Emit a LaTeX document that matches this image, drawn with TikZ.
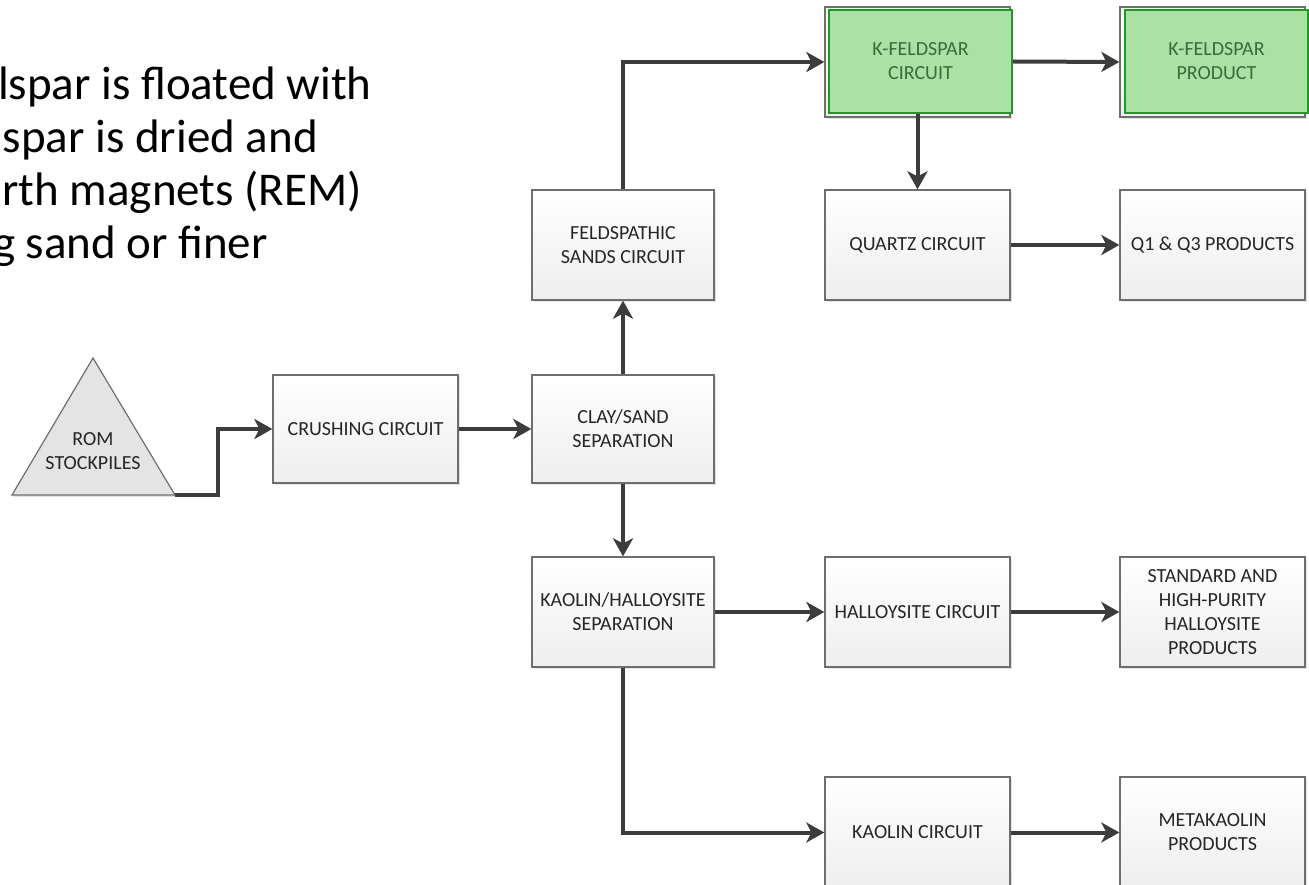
\documentclass[tikz,border=0pt]{standalone}
\usepackage{fontspec}
\setmainfont{Carlito}
\usetikzlibrary{arrows.meta,shadows,calc}

\definecolor{boxedge}{HTML}{6E6E6E}
\definecolor{flowline}{HTML}{3C3C3C}
\definecolor{kfill}{HTML}{A9E2A4}
\definecolor{kedge}{HTML}{1E9A1E}
\definecolor{ktext}{HTML}{3A6B3A}
\definecolor{pilefill}{HTML}{E4E4E4}

\tikzset{
  stepbox/.style={draw=boxedge, line width=1.3pt, top color=white, bottom color=gray!13,
    drop shadow={shadow xshift=2pt, shadow yshift=-2pt, fill=gray!45, opacity=0.45},
    align=center, text=black!85, font=\fontsize{20}{24}\selectfont,
    minimum width=#1, minimum height=110pt, inner sep=2pt},
  stepbox/.default=185pt,
  kbox/.style={draw=kedge, line width=2pt, fill=kfill, align=center, text=ktext,
    font=\fontsize{20}{24}\selectfont, minimum width=183pt, minimum height=103pt, inner sep=2pt},
  flow/.style={draw=flowline, line width=4pt,
    -{Stealth[length=18pt, width=20pt, inset=5pt]}},
  bodytext/.style={font=\fontsize{47}{53}\selectfont, text=black, inner sep=0pt, anchor=base east}
}

\begin{document}
\begin{tikzpicture}[x=1pt, y=-1pt]
\clip (0,0) rectangle (1309,885);
\useasboundingbox (0,0) rectangle (1309,885);

% text running in from the left margin
\node[bodytext] (t1) at (372,100) {lspar is floated with};
\node[bodytext] (t2) at (318,153) {spar is dried and};
\node[bodytext] (t3) at (362,206) {rth magnets (REM)};
\node[bodytext] (t4) at (268,259) {g sand or finer};

% run-of-mine stockpile
\draw[draw=boxedge, line width=1.2pt, fill=pilefill,
  drop shadow={shadow xshift=1pt, shadow yshift=-2pt, fill=gray!45, opacity=0.45}]
  (93,358) -- (175,495) -- (12,495) -- cycle;
\node[align=center, text=black!85, font=\fontsize{20}{24}\selectfont] (rom) at (93,451) {ROM\\STOCKPILES};
\coordinate (romout) at (175,495);

% main column
\node[stepbox] (crush) at (365.5,429) [minimum height=108pt] {CRUSHING CIRCUIT};
\node[stepbox=182pt] (clay) at (623,429) [minimum height=108pt] {CLAY/SAND\\SEPARATION};
\node[stepbox=182pt] (feld) at (623,245) {FELDSPATHIC\\SANDS CIRCUIT};
\node[stepbox=182pt] (kh) at (623,612) {KAOLIN/HALLOYSITE\\SEPARATION};

% K-feldspar line
\node[stepbox] (kfcframe) at (917.5,62) {};
\node[kbox] (kfc) at (920.5,61.5) {K-FELDSPAR\\CIRCUIT};
\node[stepbox] (kfpframe) at (1212.5,62) {};
\node[kbox] (kfp) at (1216.5,61.5) {K-FELDSPAR\\PRODUCT};

% quartz line
\node[stepbox] (quartz) at (917.5,245) {QUARTZ CIRCUIT};
\node[stepbox] (q13) at (1212.5,245) {Q1 \& Q3 PRODUCTS};

% halloysite line
\node[stepbox] (hal) at (917.5,612) {HALLOYSITE CIRCUIT};
\node[stepbox] (std) at (1212.5,612) {STANDARD AND\\HIGH-PURITY\\HALLOYSITE\\PRODUCTS};

% kaolin line
\node[stepbox] (kao) at (917.5,832.5) [minimum height=111pt] {KAOLIN CIRCUIT};
\node[stepbox] (meta) at (1212.5,832.5) [minimum height=111pt] {METAKAOLIN\\PRODUCTS};

% flows
\draw[flow] (romout) -- ++(43,0) |- (crush.west);
\draw[flow] (crush.east) -- (clay.west);
\draw[flow] (clay.north) -- (feld.south);
\draw[flow] (feld.north) |- (kfcframe.west);
\draw[flow] (quartz.north |- kfc.south) -- (quartz.north);
\draw[flow] (kfc.east) -- (kfpframe.west);
\draw[flow] (quartz.east) -- (q13.west);
\draw[flow] (clay.south) -- (kh.north);
\draw[flow] (kh.east) -- (hal.west);
\draw[flow] (hal.east) -- (std.west);
\draw[flow] (kh.south) |- (kao.west);
\draw[flow] (kao.east) -- (meta.west);
\end{tikzpicture}
\end{document}
